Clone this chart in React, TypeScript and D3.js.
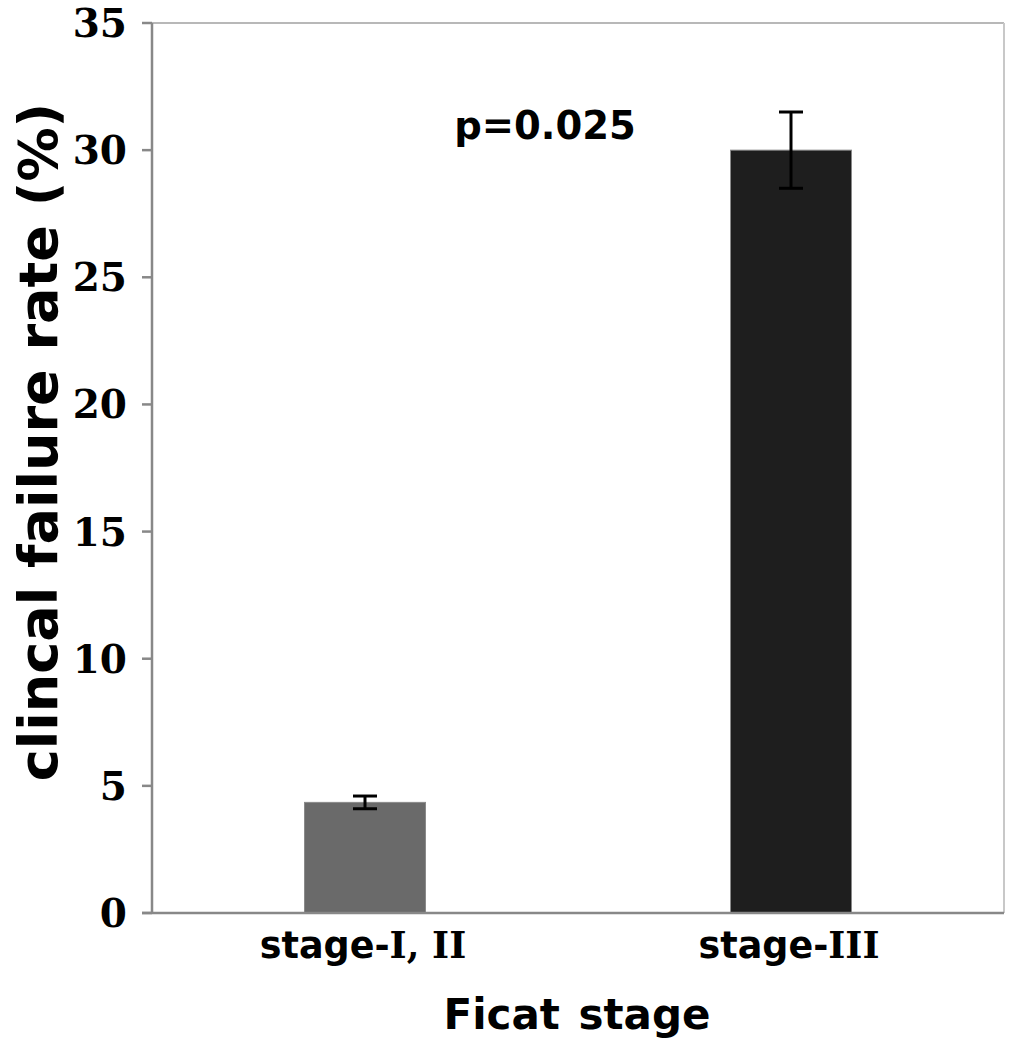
import React from "react";
import * as d3 from "d3";

const categories = ["stage-I, II", "stage-III"];
const values = [4.35, 30];
const errors = [0.25, 1.5];
const barColors = ["#6a6a6a", "#1e1e1e"];
const yTicks = [0, 5, 10, 15, 20, 25, 30, 35];
const annotation = "p=0.025";
const xTitle = "Ficat stage";
const yTitle = "clincal failure rate (%)";

export default function App() {
  const W = 1011, H = 1050;
  const left = 152, right = 1004, top = 23, bottom = 913;
  const y = d3.scaleLinear().domain([0, 35]).range([bottom, top]);
  const p = 0.716;
  const x = d3.scaleBand<string>().domain(categories).range([left, right]).paddingInner(p).paddingOuter(p / 2);
  const bw = x.bandwidth();
  const sans = "'DejaVu Sans', Verdana, sans-serif";
  const serif = "'DejaVu Serif', Georgia, serif";
  return (
    <svg width={W} height={H} style={{ position: "absolute", left: 0, top: 0, background: "#fff" }}>
      {/* frame */}
      <line x1={left - 10} x2={right} y1={top} y2={top} stroke="#b8b8b8" strokeWidth={2} />
      <line x1={right} x2={right} y1={top} y2={bottom} stroke="#c8c8c8" strokeWidth={2} />
      {/* bars */}
      {categories.map((c, i) => {
        const x0 = x(c)!;
        const cx = x0 + bw / 2;
        return (
          <g key={c}>
            <rect x={x0} y={y(values[i])} width={bw} height={bottom - y(values[i])} fill={barColors[i]} stroke="#8a8a8a" strokeWidth={1} />
            <line x1={cx} x2={cx} y1={y(values[i] + errors[i])} y2={y(values[i] - errors[i])} stroke="#000" strokeWidth={3} />
            <line x1={cx - 12} x2={cx + 12} y1={y(values[i] + errors[i])} y2={y(values[i] + errors[i])} stroke="#000" strokeWidth={3} />
            <line x1={cx - 12} x2={cx + 12} y1={y(values[i] - errors[i])} y2={y(values[i] - errors[i])} stroke="#000" strokeWidth={3} />
          </g>
        );
      })}
      {/* axes */}
      <line x1={left} x2={left} y1={top} y2={bottom} stroke="#888" strokeWidth={2.5} />
      <line x1={left - 10} x2={right} y1={bottom} y2={bottom} stroke="#888" strokeWidth={2.5} />
      {yTicks.map((t) => (
        <g key={t}>
          <line x1={left - 10} x2={left} y1={y(t)} y2={y(t)} stroke="#888" strokeWidth={2.5} />
          <text x={left - 25} y={y(t)} dy="0.36em" textAnchor="end" fontFamily={serif} fontWeight="bold" fontSize={39} fill="#000">{t}</text>
        </g>
      ))}
      {/* x labels */}
      {categories.map((c) => {
        const cx = x(c)! + bw / 2;
        const idx = c.indexOf("-") + 1;
        return (
          <text key={c} x={cx - 2} y={958} textAnchor="middle" fontWeight="bold" fontSize={36.5} fill="#000">
            <tspan fontFamily={sans}>{c.slice(0, idx)}</tspan>
            <tspan fontFamily={serif}>{c.slice(idx)}</tspan>
          </text>
        );
      })}
      <text x={577} y={1029} textAnchor="middle" fontFamily={sans} fontWeight="bold" fontSize={42} fill="#000" style={{ wordSpacing: "4px" }}>{xTitle}</text>
      <text transform={`translate(57,442) rotate(-90)`} textAnchor="middle" fontFamily={sans} fontWeight="bold" fontSize={54} fill="#000">{yTitle}</text>
      <text x={545} y={139} textAnchor="middle" fontFamily={sans} fontWeight="bold" fontSize={38.5} fill="#000">{annotation}</text>
    </svg>
  );
}
